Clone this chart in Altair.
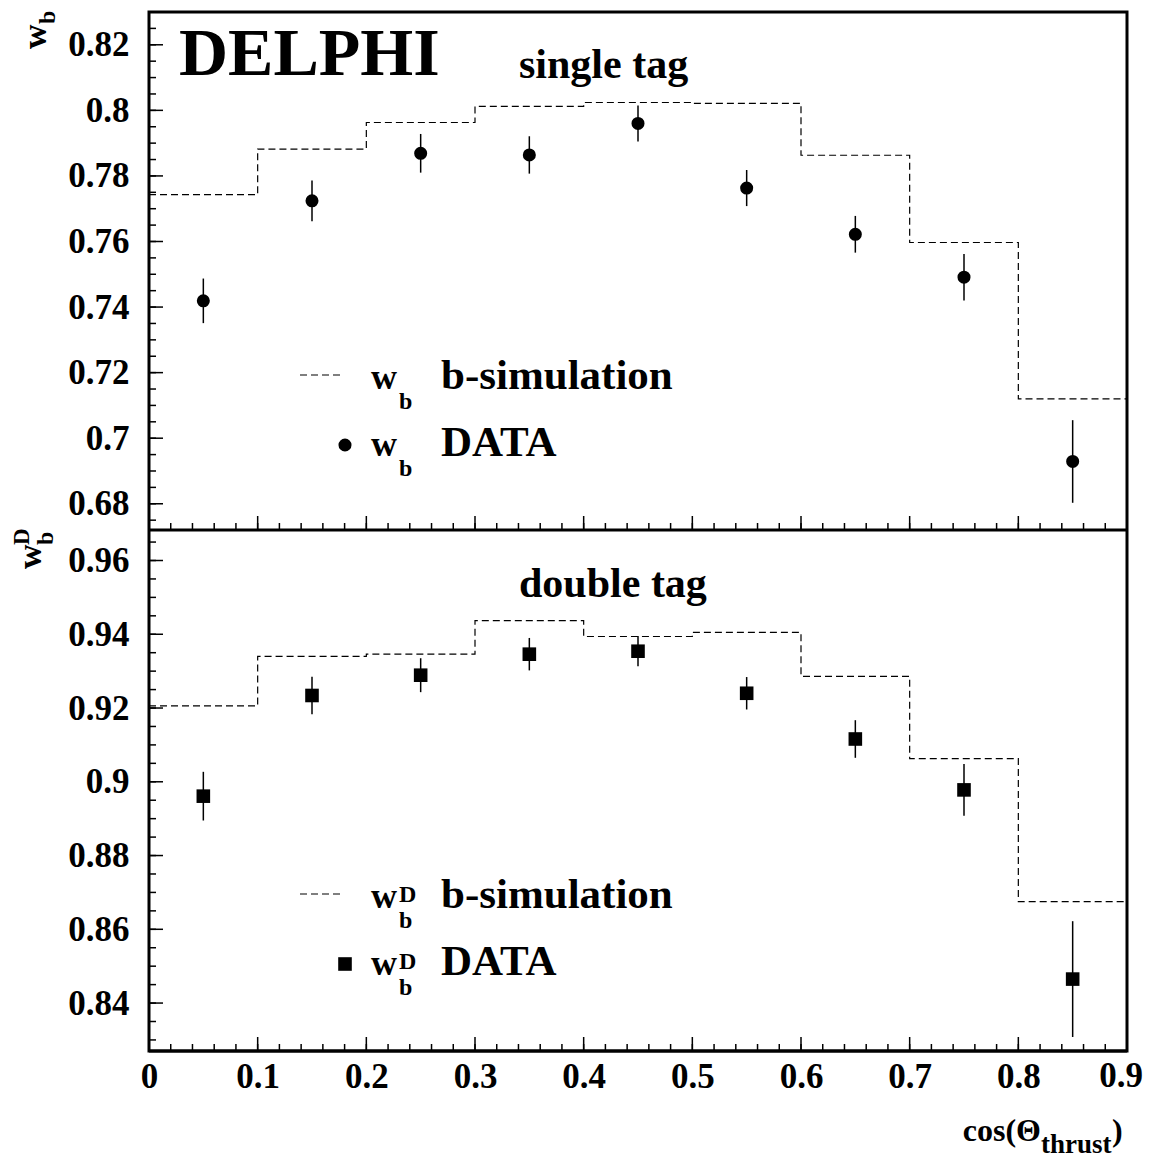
import altair as alt
import pandas as pd

# ---------------- data ----------------
x_centers = [0.05, 0.15, 0.25, 0.35, 0.45, 0.55, 0.65, 0.75, 0.85]
bin_edges = [0.0, 0.1, 0.2, 0.3, 0.4, 0.5, 0.6, 0.7, 0.8, 0.9]

single_data = [0.7419, 0.7724, 0.7869, 0.7864, 0.7960, 0.7763, 0.7622, 0.7491, 0.6929]
single_err = [0.0068, 0.0062, 0.0059, 0.0057, 0.0055, 0.0055, 0.0056, 0.0071, 0.0126]
single_sim = [0.7743, 0.7882, 0.7963, 0.8012, 0.8024, 0.8021, 0.7863, 0.7597, 0.7120]

double_data = [0.8961, 0.9234, 0.9289, 0.9346, 0.9354, 0.9240, 0.9116, 0.8978, 0.8465]
double_err = [0.0066, 0.0051, 0.0046, 0.0044, 0.0041, 0.0044, 0.0051, 0.0070, 0.0157]
double_sim = [0.9206, 0.9340, 0.9346, 0.9437, 0.9394, 0.9405, 0.9286, 0.9063, 0.8675]

# axis tick values
x_major = [0.0, 0.1, 0.2, 0.3, 0.4, 0.5, 0.6, 0.7, 0.8, 0.9]
x_minor = [round(i * 0.02, 3) for i in range(46)]
top_y_major = [0.68, 0.70, 0.72, 0.74, 0.76, 0.78, 0.80, 0.82]
top_y_minor = [round(0.675 + i * 0.005, 3) for i in range(32)]
bot_y_major = [0.84, 0.86, 0.88, 0.90, 0.92, 0.94, 0.96]
bot_y_minor = [round(0.83 + i * 0.005, 3) for i in range(28)]

TOP_DOM = [0.672, 0.83]
BOT_DOM = [0.827, 0.968]

SERIF = "Liberation Serif"
W = 978
H_TOP = 518          # top panel occupies 0..518
B0 = 519             # bottom panel starts here
H = 1039             # total plot height
ONE = pd.DataFrame({"k": [0]})

xs = alt.Scale(domain=[0, 0.9], nice=False, zero=False)
LAB = dict(labelFont=SERIF, labelFontWeight="bold", labelFontSize=35,
           labelColor="black", ticks=False, tickSize=0, domain=False,
           grid=False, title=None, format="~g", labelOverlap=False)
# last label (0.9) is drawn separately so it stays inside the page
xaxis = alt.Axis(values=x_major[:-1], labelPadding=8, labelFlush=False, orient="bottom", **LAB)


def txt(s, x, y, size, angle=0, align="left"):
    return alt.Chart(ONE).mark_text(
        text=s, font=SERIF, fontWeight="bold", fontSize=size, align=align,
        baseline="alphabetic", angle=angle, color="black"
    ).encode(x=alt.value(x), y=alt.value(y))


def panel(y0, y1, ydom, data, err, sim, shape, msize, ymaj, ymin):
    ys = alt.Scale(domain=ydom, range=[y1, y0], nice=False, zero=False)
    yaxis = alt.Axis(values=ymaj, labelPadding=20, orient="left", **LAB)

    pts = pd.DataFrame({
        "x": x_centers,
        "y": data,
        "lo": [d - e for d, e in zip(data, err)],
        "hi": [d + e for d, e in zip(data, err)],
    })
    sim_df = pd.DataFrame({"x": bin_edges, "y": sim + [sim[-1]]})

    step = alt.Chart(sim_df).mark_line(
        interpolate="step-after", color="black", strokeWidth=1.2, strokeDash=[7, 4]
    ).encode(x=alt.X("x:Q", scale=xs, axis=xaxis), y=alt.Y("y:Q", scale=ys, axis=yaxis))

    bars = alt.Chart(pts).mark_rule(color="black", strokeWidth=1.5).encode(
        x=alt.X("x:Q", scale=xs, axis=xaxis),
        y=alt.Y("lo:Q", scale=ys, axis=None), y2="hi:Q")

    marks = alt.Chart(pts).mark_point(
        shape=shape, filled=True, size=msize, color="black", opacity=1
    ).encode(x=alt.X("x:Q", scale=xs, axis=xaxis), y=alt.Y("y:Q", scale=ys, axis=None))

    def yt(vals, length):
        return alt.Chart(pd.DataFrame({"v": vals})).mark_rule(
            color="black", strokeWidth=1.5).encode(
            y=alt.Y("v:Q", scale=ys, axis=None), x=alt.value(0), x2=alt.value(length))

    def xt(vals, length):
        return alt.Chart(pd.DataFrame({"v": vals})).mark_rule(
            color="black", strokeWidth=1.5).encode(
            x=alt.X("v:Q", scale=xs, axis=xaxis), y=alt.value(y1), y2=alt.value(y1 - length))

    # panel bottom frame line
    sep = alt.Chart(pd.DataFrame({"v": [ydom[0]]})).mark_rule(
        color="black", strokeWidth=3).encode(
        y=alt.Y("v:Q", scale=ys, axis=None), x=alt.value(0), x2=alt.value(W))

    # legend symbols
    leg_line = alt.Chart(ONE).mark_rule(color="black", strokeWidth=1.2, strokeDash=[7, 4]).encode(
        x=alt.value(151), x2=alt.value(195), y=alt.value(y0 + 363))
    leg_mark = alt.Chart(ONE).mark_point(
        shape=shape, filled=True, size=msize, color="black", opacity=1
    ).encode(x=alt.value(196), y=alt.value(y0 + 433))

    return [step, bars, marks, yt(ymin, 7), yt(ymaj, 14), xt(x_minor, 7), xt(x_major, 14),
            sep, leg_line, leg_mark]


top_layers = panel(0, H_TOP, TOP_DOM, single_data, single_err, single_sim, "circle", 170,
                   top_y_major, top_y_minor)
bot_layers = panel(B0, H, BOT_DOM, double_data, double_err, double_sim, "square", 185,
                   bot_y_major, bot_y_minor)

last_label = alt.Chart(pd.DataFrame({"v": [x_major[-1]]})).mark_text(
    font=SERIF, fontWeight="bold", fontSize=35, align="right", baseline="top",
    dx=16, color="black"
).encode(
    x=alt.X("v:Q", scale=xs, axis=xaxis),
    y=alt.value(H + 8),
    text=alt.Text("v:Q", format="~g"),
)

top_texts = [
    txt("DELPHI", 30, 63, 68),
    txt("single tag", 370, 66, 42),
    txt("w", 222, 377, 36), txt("b", 250, 397, 24), txt("b-simulation", 292, 377, 43),
    txt("w", 222, 444, 36), txt("b", 250, 464, 24), txt("DATA", 292, 444, 43),
    # y title
    txt("w", -103, 37, 34, angle=270), txt("b", -94, 12, 24, angle=270),
]

b = B0
bot_texts = [
    txt("double tag", 370, b + 66, 42),
    txt("w", 222, b + 377, 36), txt("D", 250, b + 371, 24), txt("b", 250, b + 397, 24),
    txt("b-simulation", 292, b + 377, 43),
    txt("w", 222, b + 444, 36), txt("D", 250, b + 438, 24), txt("b", 250, b + 464, 24),
    txt("DATA", 292, b + 444, 43),
    # y title
    txt("w", -108, b + 38, 34, angle=270), txt("D", -120, b + 14, 23, angle=270),
    txt("b", -96, b + 14, 24, angle=270),
    # x title
    txt("cos(\u0398", 892, b + 610, 32, align="right"), txt("thrust", 892, b + 622, 27),
    txt(")", 963, b + 610, 32),
]

chart = alt.layer(*(top_layers + bot_layers + [last_label] + top_texts + bot_texts)).resolve_scale(
    y="independent"
).properties(
    width=W,
    height=H,
    autosize=alt.AutoSizeParams(type="none"),
    padding={"left": 141, "top": 4, "right": 17, "bottom": 110},
    background="white",
).configure_view(stroke="black", strokeWidth=3)

chart.save("out.html", embed_options={"renderer": "svg", "actions": False})
